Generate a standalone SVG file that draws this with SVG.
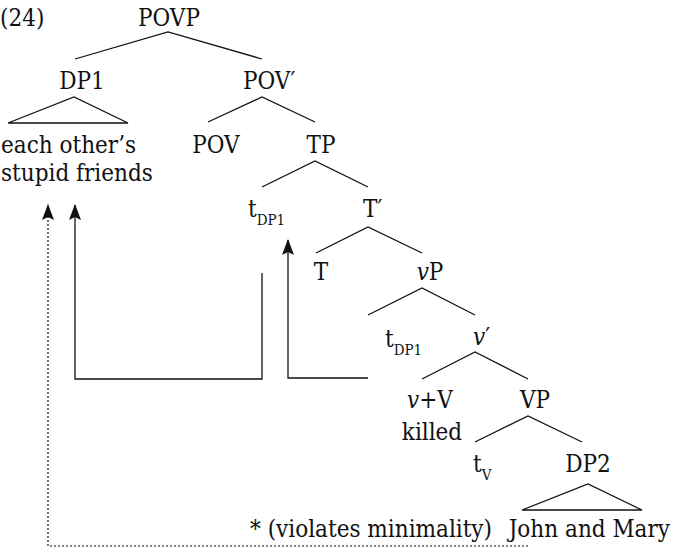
<svg xmlns="http://www.w3.org/2000/svg" width="673" height="550" viewBox="0 0 673 550">
  <style>
    text { font-family: "DejaVu Serif Condensed", "DejaVu Serif", serif; font-stretch: condensed; font-size: 24px; fill: #111; }
    .sub { font-size: 15px; }
    .it { font-style: italic; }
    .mid { text-anchor: middle; }
    .edge { stroke: #111; stroke-width: 1.3; fill: none; }
    .move { stroke: #111; stroke-width: 1.3; fill: none; marker-end: url(#head); }
    .dotted { stroke: #111; stroke-width: 1.2; fill: none; stroke-dasharray: 2 2; marker-end: url(#head); }
  </style>
  <defs>
    <marker id="head" markerUnits="userSpaceOnUse" markerWidth="16" markerHeight="12" viewBox="0 0 16 12" refX="15" refY="6" orient="auto">
      <path d="M0,0 L16,6 L0,12 L3,6 Z" fill="#111"/>
    </marker>
  </defs>

  <text x="0" y="26">(24)</text>

  <g id="POVP"><text class="mid" x="169" y="26">POVP</text></g>
  <g id="DP1"><text class="mid" x="82" y="89">DP1</text></g>
  <g id="POVbar"><text x="243" y="89">POV′</text></g>
  <g id="DP1-content">
    <text x="1" y="153">each other’s</text>
    <text x="1" y="181">stupid friends</text>
  </g>
  <g id="POV"><text class="mid" x="216" y="153">POV</text></g>
  <g id="TP"><text class="mid" x="321" y="153">TP</text></g>
  <g id="tDP1-high"><text x="248" y="217">t<tspan class="sub" dy="8">DP1</tspan></text></g>
  <g id="Tbar"><text x="363" y="217">T′</text></g>
  <g id="T"><text class="mid" x="321" y="280">T</text></g>
  <g id="vP"><text class="mid" x="430" y="280"><tspan class="it">v</tspan>P</text></g>
  <g id="tDP1-low"><text x="385" y="347">t<tspan class="sub" dy="8">DP1</tspan></text></g>
  <g id="vbar"><text x="473" y="345"><tspan class="it">v</tspan>′</text></g>
  <g id="vV">
    <text class="mid" x="430" y="408"><tspan class="it">v</tspan>+V</text>
    <text class="mid" x="432" y="440">killed</text>
  </g>
  <g id="VP"><text class="mid" x="535" y="408">VP</text></g>
  <g id="tV"><text x="473" y="472">t<tspan class="sub" dy="8">V</tspan></text></g>
  <g id="DP2"><text class="mid" x="588" y="472">DP2</text></g>
  <g id="DP2-content"><text x="670" y="537" text-anchor="end">John and Mary</text></g>
  <g id="note"><text x="492" y="537" text-anchor="end">* (violates minimality)</text></g>

  <g id="connectors">
    <!-- tree branches -->
    <path class="edge" d="M75,59 L168,32 L262,59"/>
    <path class="edge" d="M8,123 L74,97 L128,123 Z"/>
    <path class="edge" d="M208,122 L262,97 L315,122"/>
    <path class="edge" d="M262,187 L315,161 L368,187"/>
    <path class="edge" d="M316,253 L368,227 L422,253"/>
    <path class="edge" d="M368,315 L422,288 L475,315"/>
    <path class="edge" d="M422,379 L475,352 L528,379"/>
    <path class="edge" d="M475,442 L528,416 L582,442"/>
    <path class="edge" d="M522,510 L588,484 L642,510 Z"/>
    <!-- movement arrows -->
    <path class="move" d="M262,273 L262,379 L75,379 L75,205"/>
    <path class="move" d="M368,378 L288,378 L288,240"/>
    <path class="dotted" d="M528,546 L48,546 L48,205"/>
  </g>
</svg>
